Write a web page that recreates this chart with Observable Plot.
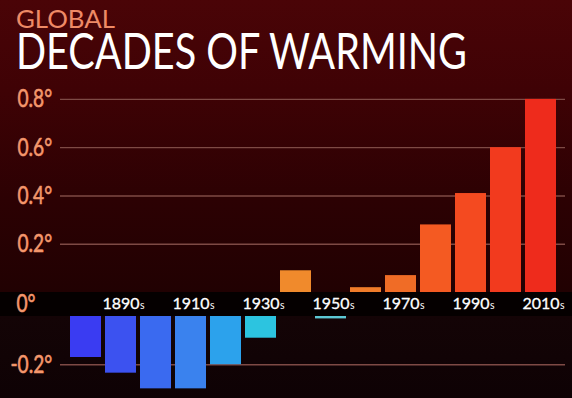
<!DOCTYPE html>
<html><head><meta charset="utf-8">
<script src="https://cdn.jsdelivr.net/npm/d3@7"></script>
<script src="https://cdn.jsdelivr.net/npm/@observablehq/plot@0.6"></script>
<style>
html,body{margin:0;padding:0;}
body{width:572px;height:398px;overflow:hidden;position:relative;
  background:linear-gradient(to bottom,#4a0407 0px,#3f0205 90px,#2c0103 200px,#210102 292px,#140406 316px,#0e0204 398px);}
#kicker{position:absolute;left:16px;top:8px;font:400 25px Lato,sans-serif;color:#ee8a66;line-height:0.8;white-space:nowrap;transform-origin:0 0;}
#title{position:absolute;left:16px;top:29.5px;font:400 51px Lato,sans-serif;color:#ffffff;line-height:0.8;white-space:nowrap;transform-origin:0 0;}
#chart{position:absolute;left:0;top:80px;}
</style></head><body>
<div id="kicker">GLOBAL</div>
<div id="title">DECADES OF WARMING</div>
<div id="chart"></div>
<script>
const decades = ["1880","1890","1900","1910","1920","1930","1940","1950","1960","1970","1980","1990","2000","2010"];
const anomalies = [-0.17,-0.235,-0.30,-0.30,-0.20,-0.09,0.09,-0.01,0.02,0.07,0.28,0.41,0.60,0.80];
const yTicks = [0.2,0.4,0.6,0.8];
const yNegTicks = [-0.2];
const xLabelDecades = ["1890","1910","1930","1950","1970","1990","2010"];
const barColors = ["#3a3cf2","#3c52f0","#3a6af0","#3a82ee","#2ca2ec","#2cc4e0","#f08a2c","#5cc8d4","#f07c2a","#f06c26","#f45a22","#f44a20","#f23a1e","#ee2b1c"];

const data = decades.map((d, i) => ({decade: d, value: anomalies[i]}));
const labelFont = "yTickFace, Lato, sans-serif";
const peach = "#f4976c";
const tickStyle = {fill: peach, stroke: peach, strokeWidth: 0.6, fontSize: 24.5, fontFamily: labelFont, frameAnchor: "left", textAnchor: "start"};

const chart = Plot.plot({
  width: 572, height: 318,
  marginLeft: 66, marginRight: 13, marginTop: 0, marginBottom: 0,
  style: {background: "transparent", overflow: "visible"},
  x: {type: "band", domain: decades, padding: 0, axis: null},
  y: {type: "linear", domain: [-0.34, 0, 0, 0.87], range: [318, 236, 212, 2], axis: null},
  color: {type: "ordinal", domain: decades, range: barColors},
  marks: [
    Plot.ruleY([...yTicks, ...yNegTicks], {stroke: "#7e4a45", strokeWidth: 1.4, insetLeft: -6, insetRight: -6}),
    Plot.barY(data, {x: "decade", y1: 0, y2: "value", fill: "decade", insetLeft: 2, insetRight: 2}),
    Plot.rect([0], {y1: 0, y2: -1e-9, fill: "#050000", insetLeft: -66, insetRight: -13}),
    Plot.text(yTicks, {...tickStyle, y: d => d, text: d => d.toFixed(1) + "°", dx: -49}),
    Plot.text(yNegTicks, {...tickStyle, y: d => d, text: d => "-" + Math.abs(d).toFixed(1) + "°", dx: -56}),
    Plot.text([0], {...tickStyle, y: 0, text: () => "0°", dx: -50, dy: 12}),
    Plot.text(xLabelDecades, {x: d => d, y: 0, text: d => d, lineAnchor: "bottom", dy: 16, fill: "#ffffff", stroke: "#ffffff", strokeWidth: 0.3, fontSize: 16, fontFamily: "Lato, sans-serif"}),
    Plot.text(xLabelDecades, {x: d => d, y: 0, text: () => "s", lineAnchor: "bottom", textAnchor: "start", dx: 19, dy: 16, fill: "#ffffff", fontSize: 10.5, fontFamily: "Lato, sans-serif"})
  ]
});
document.getElementById("chart").appendChild(chart);

// condensed look for the y tick labels
chart.querySelectorAll('g[font-family^="yTickFace"] text').forEach(t => {
  const tr = t.getAttribute("transform") || "";
  t.setAttribute("transform", tr + " scale(0.78,1)");
});

function fit(id, target) {
  const el = document.getElementById(id);
  el.style.transform = "";
  const w = el.getBoundingClientRect().width;
  if (w > 0) el.style.transform = `scaleX(${target / w})`;
}
fit("kicker", 99);
fit("title", 451);
if (document.fonts && document.fonts.ready) document.fonts.ready.then(() => { fit("kicker", 99); fit("title", 451); });
</script>
</body></html>
